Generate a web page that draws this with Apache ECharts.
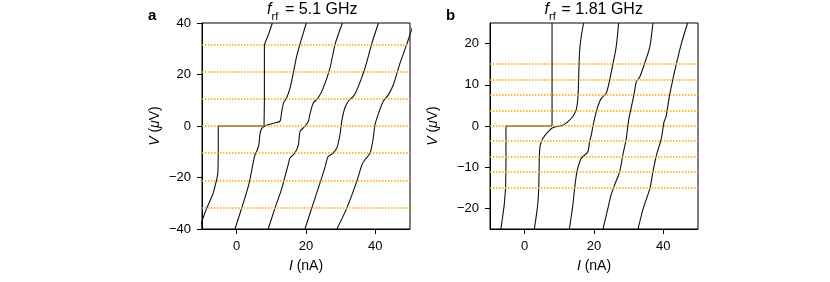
<!DOCTYPE html>
<html>
<head>
<meta charset="utf-8">
<script src="https://cdn.jsdelivr.net/npm/echarts@6/dist/echarts.min.js"></script>
<style>
html,body{margin:0;padding:0;background:#fff;}
#chart{width:830px;height:282px;}
</style>
</head>
<body>
<div id="chart"></div>
<script>
// ---------- data (I in nA, V in µV) ----------
const xTicks = [0, 20, 40];
const yTicksA = [-40, -20, 0, 20, 40];
const yTicksB = [-20, -10, 0, 10, 20];

// Shapiro step voltages (dotted orange guides)
const stepsA = [-31.6, -21.1, -10.5, 0, 10.5, 21.1, 31.6];
const stepsB = [-15.0, -11.2, -7.5, -3.7, 0, 3.7, 7.5, 11.2, 15.0];

// panel a, f_rf = 5.1 GHz
const curveA1 = [[-10.4,-40],[-10.1,-37.3],[-8.7,-32.1],[-6.8,-26.3],[-5.7,-20.5],[-5.4,-17.9],[-5.3,-10],[-5.3,0],[7.9,0],[8.0,10],[8.0,31.6],[8.3,32.3],[9.3,36],[10.3,40]];
const curveA2 = [[-0.5,-40],[1.4,-32.1],[2.9,-25.6],[3.8,-21],[4.8,-14],[5.3,-11.1],[5.8,-9.8],[6.4,-7.3],[6.7,-3.4],[7.2,-1],[8.6,0.3],[11.0,1.2],[12.5,1.9],[13.0,5.7],[13.5,8.9],[14.4,10.9],[15.4,14.8],[16.4,21],[17.3,27],[18.3,32],[20.1,40]];
const curveA3 = [[9.1,-40],[11.0,-32.1],[13.0,-24.3],[14.9,-14.8],[15.4,-12.4],[16.8,-10.5],[17.8,-7.3],[18.3,-2.1],[19.7,-0.1],[20.7,1.8],[21.1,4.4],[22.1,8.9],[23.5,10.9],[25.0,14.8],[27.0,23],[28.4,31.8],[30.5,40]];
const curveA4 = [[19.7,-40],[21.6,-32.1],[23.5,-24.3],[25.5,-16],[26.3,-12],[27.6,-10.8],[28.9,-8.5],[29.8,-3.4],[30.3,1.8],[31.2,7],[32.3,9.8],[33.7,11.6],[35.0,15],[37.0,22.4],[39.0,32.1],[40.9,40]];
const curveA5 = [[28.9,-40],[31.7,-32.1],[34.6,-21.7],[36.2,-14.8],[37.0,-13.1],[38.5,-10.5],[39.4,-4.7],[39.9,0.5],[41.1,5.6],[42.3,9.6],[43.7,12],[45.2,16],[47.1,24.3],[49.0,31.5],[50.0,35.5],[51.0,39.5]];

// panel b, f_rf = 1.81 GHz
const curveB1 = [[-6.85,-25],[-5.9,-19.2],[-5.5,-15],[-5.4,-10],[-5.4,0],[7.8,0],[7.9,0.5],[7.9,25]];
const curveB2 = [[2.8,-25],[3.75,-19.2],[4.05,-15.2],[4.25,-7.1],[4.5,-4.7],[5.2,-3.1],[6.65,-1.5],[8.1,-0.4],[11.05,0.2],[12.4,1],[13.9,2.3],[14.85,3.9],[15.3,6.3],[15.5,9.5],[15.8,17.6],[16.3,21.6],[17.0,25]];
const curveB3 = [[12.9,-25],[13.9,-19.2],[14.4,-15.2],[15.1,-11.1],[16.3,-7.9],[18.2,-6.3],[18.7,-3.9],[19.2,-2.3],[19.7,0],[20.3,2.3],[21.1,4.7],[22.1,6.7],[23.5,7.9],[24.5,11.1],[25.5,15.2],[26.4,19.2],[27.1,25]];
const curveB4 = [[22.6,-25],[24.0,-20],[24.9,-16.8],[25.9,-14.4],[27.4,-11.1],[28.3,-7.1],[29.3,-3.1],[30.0,1.5],[30.8,4.7],[31.6,7.9],[32.2,10.7],[33.2,11.9],[34.6,15.2],[36.1,19.2],[37.0,25]];
const curveB5 = [[32.7,-25],[34.2,-20],[36.1,-15.2],[37.0,-11.1],[38.0,-7.1],[39.4,-3.1],[40.2,1],[40.8,2.3],[41.8,7.5],[42.8,11.5],[43.8,15.2],[45.2,20],[47.0,25]];

// ---------- chart ----------
const FONT = 'Liberation Sans, Arial, Helvetica, sans-serif';
const minus = v => String(v).replace('-', '\u2212');

function xAxisFor(gi) {
  return {
    gridIndex: gi, type: 'value', min: -10, max: 50,
    axisLine: { show: true, onZero: false, lineStyle: { color: '#000', width: 1 } },
    splitLine: { show: false },
    axisTick: { show: true, inside: false, length: 5, customValues: xTicks, lineStyle: { color: '#000', width: 1 } },
    axisLabel: { customValues: xTicks, color: '#000', fontSize: 13, fontFamily: FONT, margin: 11, formatter: minus },
    name: '{i|I} (nA)', nameLocation: 'middle', nameGap: 30,
    nameTextStyle: { color: '#000', fontSize: 14, fontFamily: FONT,
      rich: { i: { fontStyle: 'italic', fontSize: 14, fontFamily: FONT, color: '#000' } } }
  };
}
function yAxisFor(gi, lo, hi, ticks, gap) {
  return {
    gridIndex: gi, type: 'value', min: lo, max: hi,
    axisLine: { show: true, onZero: false, lineStyle: { color: '#000', width: 1 } },
    splitLine: { show: false },
    axisTick: { show: true, inside: false, length: 5, customValues: ticks, lineStyle: { color: '#000', width: 1 } },
    axisLabel: { customValues: ticks, color: '#000', fontSize: 13, fontFamily: FONT, margin: 11, formatter: minus },
    name: '{i|V} ({i|\u03bc}V)', nameLocation: 'middle', nameGap: gap, nameRotate: 90,
    nameTextStyle: { color: '#000', fontSize: 14, fontFamily: FONT,
      rich: { i: { fontStyle: 'italic', fontSize: 14, fontFamily: FONT, color: '#000' } } }
  };
}
function curve(data, gi, smooth) {
  return {
    type: 'line', xAxisIndex: gi, yAxisIndex: gi, data: data,
    showSymbol: false, symbol: 'none', smooth: smooth, clip: true, z: 3,
    lineStyle: { color: '#111', width: 1.1 }, silent: true
  };
}
function guides(steps, gi) {
  return {
    type: 'line', xAxisIndex: gi, yAxisIndex: gi, data: [], z: 1, silent: true,
    markLine: {
      silent: true, symbol: ['none', 'none'], animation: false,
      label: { show: false },
      lineStyle: { color: '#FFA500', type: [1.5, 1.5], width: 1.5, opacity: 1 },
      emphasis: { disabled: true },
      data: steps.map(v => ({ yAxis: v }))
    }
  };
}
function txt(x, y, s, font, align) {
  return { type: 'text', x: x, y: y, silent: true,
    style: { text: s, font: font, fill: '#000', align: align || 'left', verticalAlign: 'middle' } };
}

const chart = echarts.init(document.getElementById('chart'), null, { renderer: 'canvas' });
chart.setOption({
  animation: false,
  backgroundColor: '#fff',
  grid: [
    { left: 202, top: 23, width: 208, height: 206, show: true, borderColor: '#000', borderWidth: 1, outerBoundsMode: 'none' },
    { left: 490, top: 23, width: 208, height: 206, show: true, borderColor: '#000', borderWidth: 1, outerBoundsMode: 'none' }
  ],
  xAxis: [xAxisFor(0), xAxisFor(1)],
  yAxis: [yAxisFor(0, -40, 40, yTicksA, 40), yAxisFor(1, -25, 25, yTicksB, 50)],
  series: [
    guides(stepsA, 0), guides(stepsB, 1),
    curve(curveA1, 0, false), curve(curveA2, 0, 0.25), curve(curveA3, 0, 0.25), curve(curveA4, 0, 0.25), curve(curveA5, 0, 0.25),
    curve(curveB1, 1, false), curve(curveB2, 1, 0.25), curve(curveB3, 1, 0.25), curve(curveB4, 1, 0.25), curve(curveB5, 1, 0.25)
  ],
  graphic: [
    txt(148, 16, 'a', 'bold 15px ' + FONT),
    txt(446, 16, 'b', 'bold 15px ' + FONT),
    txt(267, 9.5, 'f', 'italic 16px ' + FONT),
    txt(271.5, 17, 'rf', '11px ' + FONT),
    txt(285, 9.5, '= 5.1 GHz', '16px ' + FONT),
    txt(544.5, 9.5, 'f', 'italic 16px ' + FONT),
    txt(549, 17, 'rf', '11px ' + FONT),
    txt(561.5, 9.5, '= 1.81 GHz', '16px ' + FONT)
  ]
});
</script>
</body>
</html>
